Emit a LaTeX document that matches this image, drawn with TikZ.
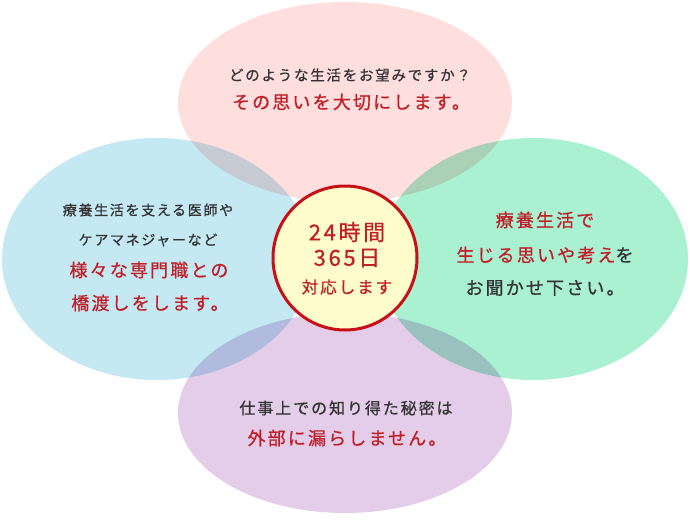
\documentclass[tikz,border=0pt]{standalone}
\usepackage{fontspec}
\newfontfamily\jp[LetterSpace=12,FakeBold=0.7]{Noto Sans CJK JP}
\usetikzlibrary{shapes.geometric}
\definecolor{petalpink}{RGB}{255,222,222}
\definecolor{petalblue}{RGB}{197,233,243}
\definecolor{petalgreen}{RGB}{170,241,210}
\definecolor{petalviolet}{RGB}{228,205,233}
\definecolor{hubyellow}{RGB}{255,252,204}
\definecolor{ringred}{RGB}{200,16,24}
\definecolor{keyred}{RGB}{192,30,40}
\definecolor{inkgray}{RGB}{51,51,51}
\begin{document}
\begin{tikzpicture}[x=1pt,y=-1pt,
  petal/.style={ellipse,inner sep=0pt,minimum width=334pt,minimum height=200pt},
  wing/.style={ellipse,inner sep=0pt,minimum width=310pt,minimum height=242pt},
  note/.style={font=\jp\fontsize{14}{14}\selectfont,text=inkgray,inner sep=0pt},
  key/.style={font=\jp\fontsize{18}{18}\selectfont,text=keyred,inner sep=0pt},
  plain/.style={font=\jp\fontsize{18}{18}\selectfont,text=inkgray,inner sep=0pt}]
\fill[white] (0,0) rectangle (690,522);
\useasboundingbox (0,0) rectangle (690,522);
\begin{scope}[blend mode=multiply]
\node[petal,fill=petalpink] (wish) at (345,102) {};
\node[wing,fill=petalblue] (care) at (157,259) {};
\node[wing,fill=petalgreen] (voice) at (533,259) {};
\node[petal,fill=petalviolet] (trust) at (345,413) {};
\end{scope}
\node[circle,minimum size=144pt,inner sep=0pt,draw=ringred,line width=3pt,fill=hubyellow] (hub) at (345,258) {};
\node[note,font=\jp\fontsize{14.5}{14.5}\selectfont] (wishA) at (350,75) {どのような生活をお望みですか？};
\node[key] (wishB) at (351,102) {その思いを大切にします。};
\node[note] (careA) at (148,210) {療養生活を支える医師や};
\node[note] (careB) at (148,240) {ケアマネジャーなど};
\node[key] (careC) at (149,270) {様々な専門職との};
\node[key] (careD) at (150,303) {橋渡しをします。};
\node[key] (voiceA) at (545,220) {療養生活で};
\node[key] (voiceB) at (545,255) {生じる思いや考え\textcolor{inkgray}{を}};
\node[plain] (voiceC) at (545,288) {お聞かせ下さい。};
\node[note,font=\jp\fontsize{16}{16}\selectfont] (trustA) at (346,408) {仕事上での知り得た秘密は};
\node[key] (trustB) at (347,438) {外部に漏らしません。};
\node[key,font=\jp\fontsize{22}{22}\selectfont] (hubA) at (347,232) {24時間};
\node[key,font=\jp\fontsize{22}{22}\selectfont] (hubB) at (347,258) {365日};
\node[key,font=\jp\fontsize{16.5}{16.5}\selectfont] (hubC) at (347,287) {対応します};
\end{tikzpicture}
\end{document}
